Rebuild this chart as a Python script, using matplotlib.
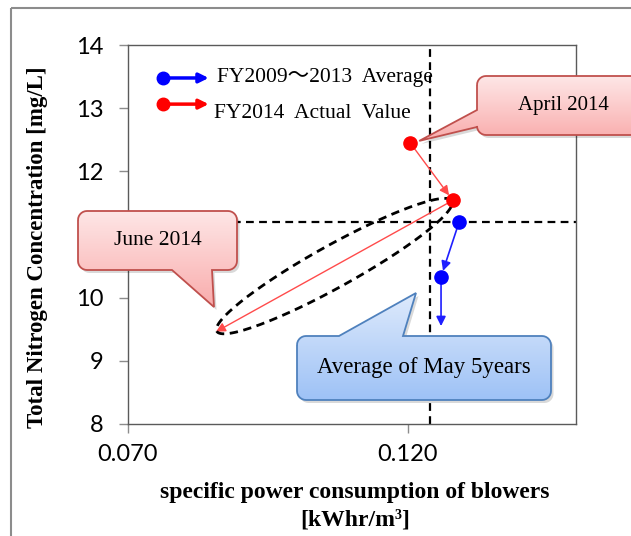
import numpy as np
import matplotlib
matplotlib.use("Agg")
import matplotlib.pyplot as plt
from matplotlib.path import Path
from matplotlib.patches import PathPatch, Rectangle

# values
x_2014 = [0.1204, 0.1280, 0.0857]      # April, May, June 2014
y_2014 = [12.45, 11.54, 9.46]
x_avg = [0.1291, 0.1259, 0.1259]       # FY2009-2013 average, April..June
y_avg = [11.19, 10.33, 9.55]
x_ref = 0.1239                         # dashed reference lines
y_ref = 11.2
x_ticks = [0.070, 0.120]
y_ticks = [8, 9, 10, 11, 12, 13, 14]

W, H = 631, 536
SERIF = ["Liberation Serif", "Noto Sans CJK JP"]

fig = plt.figure(figsize=(W / 100, H / 100), dpi=100)
fig.patch.set_facecolor("white")
ax = fig.add_axes([128 / W, 1 - 424 / H, 448 / W, 379 / H])
ax.set_xlim(0.07, 0.15)
ax.set_ylim(8, 14)
ax.set_xticks(x_ticks)
ax.set_xticklabels([f"{v:.3f}" for v in x_ticks])
ax.set_yticks(y_ticks)
ax.tick_params(direction="out", length=6.5, width=1, color="#8c8c8c",
               labelsize=17, pad=8)
ax.tick_params(axis="y", pad=11)
for lab in ax.get_xticklabels() + ax.get_yticklabels():
    lab.set_family("Lato")
for s in ax.spines.values():
    s.set_color("#5a5a5a")
    s.set_linewidth(1)

ax.set_ylabel("Total Nitrogen Concentration [mg/L]", family=SERIF,
              fontweight="bold", fontsize=16.5)
ax.yaxis.set_label_coords(-0.178, 0.467)
ax.set_xlabel("specific power consumption of blowers\n[kWhr/m³]", family=SERIF,
              fontweight="bold", fontsize=17, linespacing=1.4, va="top")
ax.xaxis.set_label_coords(0.507, -0.152)

dash = (0, (3.5, 2.4))
ax.axvline(x_ref, color="black", lw=1.6, ls=dash, zorder=2)
ax.axhline(y_ref, color="black", lw=1.6, ls=dash, zorder=2)

# month-to-month arrows
def step_arrows(xs, ys, color, lw, shrink):
    for i in range(len(xs) - 1):
        ax.annotate("", xy=(xs[i + 1], ys[i + 1]), xytext=(xs[i], ys[i]),
                    arrowprops=dict(arrowstyle="-|>", color=color, lw=lw,
                                    mutation_scale=14, shrinkA=0,
                                    shrinkB=shrink[i]), zorder=3)

step_arrows(x_2014, y_2014, "#ff4b4b", 1.0, [4.5, 0])
step_arrows(x_avg, y_avg, "#1f1fff", 1.2, [4.5, 0])
ax.plot(x_2014[:2], y_2014[:2], "o", color="red", ms=9.5, ls="none", zorder=4)
ax.plot(x_avg[:2], y_avg[:2], "o", color="blue", ms=9.5, ls="none", zorder=4)

# dashed ellipse around the May -> June 2014 move
p0 = ax.transData.transform((x_2014[1], y_2014[1]))
p1 = ax.transData.transform((x_2014[2], y_2014[2]))
c = (p0 + p1) / 2
u = (p0 - p1) / np.linalg.norm(p0 - p1)
v = np.array([-u[1], u[0]])
a = np.linalg.norm(p0 - p1) / 2 - 1
b = 21
t = np.linspace(0, 2 * np.pi, 200)
pts = c + np.outer(np.cos(t) * a, u) + np.outer(np.sin(t) * b, v)
ed = ax.transData.inverted().transform(pts)
ax.plot(ed[:, 0], ed[:, 1], color="black", lw=2, ls=(0, (3, 2)), zorder=3)

# legend drawn by hand
leg = [("blue", "FY2009～2013  Average", 0.913), ("red", "FY2014  Actual  Value", 0.818)]
for col, txt, yy in leg:
    yl = yy + (0.0 if col == "blue" else 0.026)
    ax.annotate("", xy=(0.18, yl), xytext=(0.078, yl), xycoords="axes fraction",
                arrowprops=dict(arrowstyle="-|>", color=col, lw=2.5,
                                mutation_scale=14, shrinkA=0, shrinkB=0))
    ax.plot([0.078], [yl], "o", color=col, ms=9, transform=ax.transAxes,
            clip_on=False)
    ax.text(0.198 if col == "blue" else 0.192, yy, txt, transform=ax.transAxes,
            family=SERIF, fontsize=15.5, va="center", ha="left")

# overlay in pixel coordinates for callouts and frame
ov = fig.add_axes([0, 0, 1, 1], zorder=5)
ov.set_xlim(0, W)
ov.set_ylim(H, 0)
ov.set_autoscale_on(False)
ov.axis("off")
ov.patch.set_alpha(0)

def to_px(x, y):
    return ov.transData.inverted().transform(ax.transData.transform((x, y)))

def callout(x0, y0, x1, y1, side, b0, b1, tip, top, bot, edge, text, fs, r=9):
    def arc(cx, cy, a0, a1):
        ang = np.linspace(a0, a1, 8)
        return [(cx + r * np.cos(q), cy + r * np.sin(q)) for q in ang]
    P = arc(x0 + r, y0 + r, np.pi, 1.5 * np.pi)
    if side == "top":
        P += [(b0, y0), tuple(tip), (b1, y0)]
    P += arc(x1 - r, y0 + r, 1.5 * np.pi, 2 * np.pi)
    P += arc(x1 - r, y1 - r, 0, 0.5 * np.pi)
    if side == "bottom":
        P += [(b1, y1), tuple(tip), (b0, y1)]
    P += arc(x0 + r, y1 - r, 0.5 * np.pi, np.pi)
    if side == "left":
        P += [(x0, b1), tuple(tip), (x0, b0)]
    P = np.array(P + [P[0]])
    sh = PathPatch(Path(P + [2.5, 3]), facecolor="#000000", alpha=0.15,
                   edgecolor="none", zorder=0.2)
    ov.add_patch(sh)
    base = PathPatch(Path(P), facecolor="white", edgecolor="none", zorder=0.3)
    ov.add_patch(base)
    patch = PathPatch(Path(P), facecolor="none", edgecolor=edge, lw=1.3, zorder=1)
    ov.add_patch(patch)
    ymin, ymax = P[:, 1].min(), P[:, 1].max()
    g = np.linspace(0, 1, 64)[:, None, None]
    img = np.array(top)[None, None, :] * (1 - g) + np.array(bot)[None, None, :] * g
    im = ov.imshow(img / 255, extent=(P[:, 0].min(), P[:, 0].max(), ymax, ymin),
                   aspect="auto", interpolation="bilinear", zorder=0.5)
    im.set_clip_path(patch)
    ov.text((x0 + x1) / 2, (y0 + y1) / 2, text, family=SERIF, fontsize=fs,
            ha="center", va="center", zorder=2)

pink_top, pink_bot, pink_edge = (254, 230, 230), (249, 172, 172), "#c0504d"
tip_apr = to_px(x_2014[0], y_2014[0]) + [9, -2]
callout(477, 76, 650, 135, "left", 110, 127, tip_apr, pink_top, pink_bot,
        pink_edge, "April 2014", 15)
callout(78, 211, 237, 270, "bottom", 172, 212, (214, 307), pink_top, pink_bot,
        pink_edge, "June 2014", 15.5)
callout(297, 336, 551, 400, "top", 339, 403, (416, 293), (222, 234, 252),
        (158, 194, 246), "#4f81bd", "Average of May 5years", 16.5)

ov.add_patch(Rectangle((11, 8), 700, 600, fill=False, edgecolor="#8c8c8c", lw=1.5))

fig.savefig("out.png", dpi=100)
